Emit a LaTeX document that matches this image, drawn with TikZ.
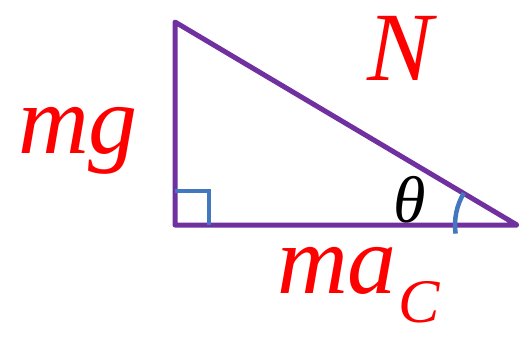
\documentclass[tikz,border=0pt]{standalone}
\usepackage{fontspec}
\setmainfont{Liberation Serif}[ItalicFont={Liberation Serif Italic}]
\usepackage{xcolor}
\definecolor{trianglepurple}{RGB}{112, 48, 160}
\definecolor{markblue}{RGB}{68, 120, 190}
\definecolor{labelred}{RGB}{255, 0, 0}
\usepackage{tikz}
\usetikzlibrary{positioning,calc}
\tikzset{
  side/.style={line width=5pt,draw=trianglepurple,line join=round},
  anglemark/.style={line width=4.5pt,draw=markblue},
  force/.style={text=labelred,font=\fontsize{98}{98}\selectfont\itshape,inner sep=0pt,anchor=base},
  anglelabel/.style={text=black,font=\fontsize{66}{66}\selectfont\itshape,inner sep=0pt,anchor=base}
}

\begin{document}
\begin{tikzpicture}[x=1pt,y=-1pt]
  \useasboundingbox (0,0) rectangle (519,337);
  % Corners of the triangle
  \coordinate (top) at (175,22);
  \coordinate (corner) at (175,225);
  \coordinate (tip) at (517,225);

  % Sides
  \draw[side] (top) -- (corner) -- (tip) -- cycle;

  % Right angle and angle theta
  \draw[anglemark] ($(corner)+(0,-34)$) -| ($(corner)+(34,0)$);
  \draw[anglemark] ($(tip)+(172:62)$) arc[start angle=172,end angle=211,radius=62];

  % Labels
  \node[force] (mg) at (78,153) {mg};
  \node[force] (N) at (400,80) {N};
  \node[force,anchor=base west] (mac) at (277,293) {ma\hspace{2pt}\raisebox{-29pt}{\fontsize{62}{62}\selectfont C}};
  \node[anglelabel] (theta) at (410,222) {θ};
\end{tikzpicture}
\end{document}
